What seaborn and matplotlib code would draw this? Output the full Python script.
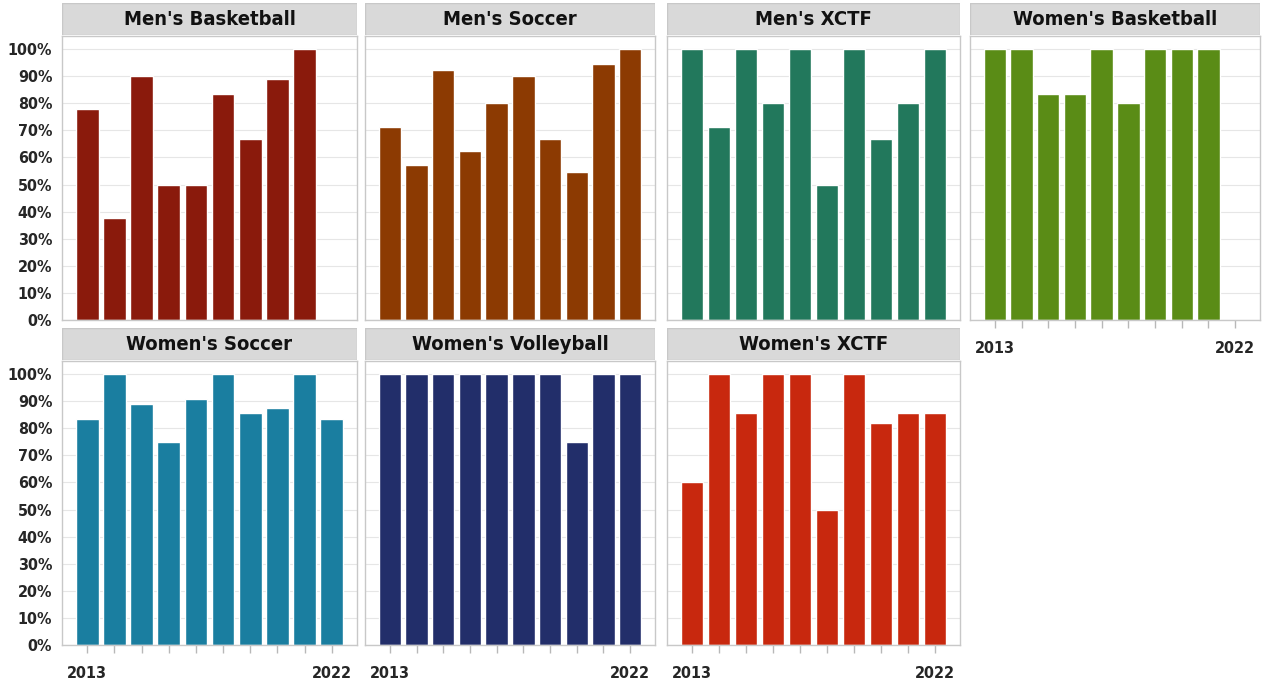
import numpy as np
import pandas as pd
import seaborn as sns
from matplotlib import pyplot as plt
from matplotlib import ticker
from matplotlib.patches import Rectangle

years = [2013, 2014, 2015, 2016, 2017, 2018, 2019, 2020, 2021, 2022]
sports = ["Men's Basketball", "Men's Soccer", "Men's XCTF", "Women's Basketball",
          "Women's Soccer", "Women's Volleyball", "Women's XCTF"]

mens_basketball = [77.8, 37.5, 90.0, 50.0, 50.0, 83.3, 66.7, 88.9, 100.0, np.nan]
mens_soccer = [71.4, 57.1, 92.3, 62.5, 80.0, 90.0, 66.7, 54.5, 94.4, 100.0]
mens_xctf = [100.0, 71.4, 100.0, 80.0, 100.0, 50.0, 100.0, 66.7, 80.0, 100.0]
womens_basketball = [100.0, 100.0, 83.3, 83.3, 100.0, 80.0, 100.0, 100.0, 100.0, np.nan]
womens_soccer = [83.3, 100.0, 88.9, 75.0, 90.9, 100.0, 85.7, 87.5, 100.0, 83.3]
womens_volleyball = [100.0, 100.0, 100.0, 100.0, 100.0, 100.0, 100.0, 75.0, 100.0, 100.0]
womens_xctf = [60.0, 100.0, 85.7, 100.0, 100.0, 50.0, 100.0, 81.8, 85.7, 85.7]

colors = ['#8a1a0c', '#8c3a02', '#22785c', '#5a8c16', '#1a7ea0', '#222e6a', '#c8280e']

values = [mens_basketball, mens_soccer, mens_xctf, womens_basketball,
          womens_soccer, womens_volleyball, womens_xctf]
df = pd.DataFrame({
    'sport': np.repeat(sports, len(years)),
    'year': years * len(sports),
    'pct': np.concatenate(values),
})

sns.set_style('white')
plt.rcParams['font.family'] = ['DejaVu Sans']
plt.rcParams['font.stretch'] = 'condensed'
plt.rcParams['font.weight'] = 'bold'

W, H = 1264, 685
fig = plt.figure(figsize=(W / 100, H / 100), dpi=100)

cols_x = [(62, 357), (365, 655), (667, 960), (970, 1260)]
rows_y = [(36, 320), (361, 645)]
strip_h = 32
edge = '#c8c8c8'

for i, sport in enumerate(sports):
    r, c = divmod(i, 4)
    x0, x1 = cols_x[c]
    y0, y1 = rows_y[r]
    ax = fig.add_axes([x0 / W, 1 - y1 / H, (x1 - x0) / W, (y1 - y0) / H])
    sub = df[df['sport'] == sport]
    sns.barplot(data=sub, x='year', y='pct', order=years, color=colors[i],
                saturation=1, width=0.84, ax=ax, errorbar=None)
    ax.set_ylim(0, 104.8)
    ax.set_xlim(-0.93, 9.93)
    ax.yaxis.set_major_locator(ticker.MultipleLocator(10))
    ax.yaxis.set_major_formatter(ticker.FuncFormatter(lambda v, p: f'{v:.0f}%'))
    ax.grid(axis='y', color='#e6e6e6', linewidth=0.8)
    ax.set_axisbelow(True)
    for s in ax.spines.values():
        s.set_color(edge)
        s.set_linewidth(1)
    ax.set_xlabel('')
    ax.set_ylabel('')
    if c == 0:
        ax.tick_params(axis='y', length=0, labelsize=11.5, pad=7)
    else:
        ax.tick_params(axis='y', length=0, labelleft=False)
    bottom_row = (r == 1) or (i == 3)
    if bottom_row:
        ax.set_xticks(range(len(years)))
        ax.set_xticklabels([str(y) if y in (2013, 2022) else '' for y in years])
        ax.tick_params(axis='x', bottom=True, length=6, width=1, color='#b8b8b8',
                       labelsize=11.5, pad=9)
    else:
        ax.tick_params(axis='x', length=0, labelbottom=False)

    # facet strip
    sax = fig.add_axes([x0 / W, 1 - (y0 - 1) / H, (x1 - x0) / W, strip_h / H])
    sax.set_xlim(0, 1)
    sax.set_ylim(0, 1)
    sax.add_patch(Rectangle((0, 0), 1, 1, facecolor='#d9d9d9', edgecolor=edge,
                            linewidth=1))
    sax.text(0.5, 0.48, sport, ha='center', va='center', fontsize=14.5,
             fontweight='bold', color='#111111')
    sax.axis('off')

fig.savefig('out.png', dpi=100)
